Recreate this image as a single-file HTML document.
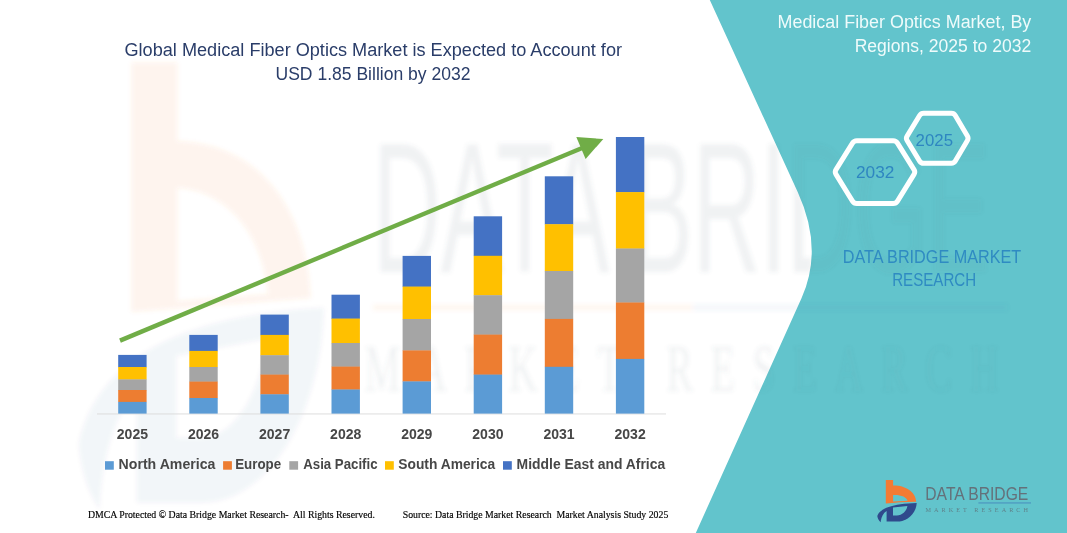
<!DOCTYPE html>
<html lang="en"><head><meta charset="utf-8"><title>Medical Fiber Optics Market</title>
<style>
html,body{margin:0;padding:0;background:#fff;}
body{width:1067px;height:533px;overflow:hidden;}
svg{display:block;}
.t{font-family:"Liberation Sans",sans-serif;}
.s{font-family:"Liberation Serif",serif;}
</style></head><body>
<svg width="1067" height="533" viewBox="0 0 1067 533">
<defs><filter id="wb" x="-5%" y="-5%" width="110%" height="110%"><feGaussianBlur stdDeviation="2"/></filter><clipPath id="ct"><path d="M709.8,0 L797.7,192 Q823.7,248.7 801.6,298 L695.8,533 L1067,533 L1067,0 Z"/></clipPath><clipPath id="cw"><path d="M0,0 L709.8,0 L797.7,192 Q823.7,248.7 801.6,298 L695.8,533 L0,533 Z"/></clipPath></defs>
<rect width="1067" height="533" fill="#ffffff"/>
<!-- teal panel -->
<path fill="#62C4CC" d="M709.8,0 L797.7,192 Q823.7,248.7 801.6,298 L695.8,533 L1067,533 L1067,0 Z"/>

<!-- watermark -->
<g filter="url(#wb)">
<path opacity="0.085" fill="#F47B34" fill-rule="evenodd" d="M131.5,62.5 L177.4,62.5 L177.4,141 C250,143 306,197 311,298 L131.5,312 Z M177.4,188 C222,190 262,228 268,294 L177.4,301 Z"/>
<g opacity="0.05" transform="matrix(6.23 0 0 10.5 -5387 -4974)">
<path fill="#2F4A8C" fill-rule="evenodd" d="M877.3,516 C880,508.5 892,503.8 916.7,503 C916.3,513 908,521.6 897,521.6 L886.6,521.6 L886.6,511 C883,513.2 881,517.5 880.7,522.3 C878.6,520.5 877.6,518.2 877.3,516 Z M893,507.6 L907.4,506 C906.6,511.4 902,515.4 897,515.4 L893,515.4 Z"/>
</g>
<g clip-path="url(#cw)">
<g opacity="0.085" fill="#5E6B73">
<text transform="translate(373,272) scale(6.0,10.6)" font-family="'Liberation Sans',sans-serif" font-size="17.6" textLength="102.8" lengthAdjust="spacingAndGlyphs">DATA BRIDGE</text>
<text transform="translate(365,391) scale(6.18,10.6)" font-family="'Liberation Serif',serif" font-size="6.4" textLength="102.5" lengthAdjust="spacing">MARKET RESEARCH</text>
</g>
<rect x="373" y="304.5" width="320" height="6" fill="#F47B34" opacity="0.06"/>
<rect x="693" y="304.5" width="120" height="6" fill="#3F78B8" opacity="0.06"/>
</g>
<g clip-path="url(#ct)">
<g opacity="0.045" fill="#6A747A">
<text transform="translate(373,272) scale(6.0,10.6)" font-family="'Liberation Sans',sans-serif" font-size="17.6" textLength="102.8" lengthAdjust="spacingAndGlyphs">DATA BRIDGE</text>
<text transform="translate(365,391) scale(6.18,10.6)" font-family="'Liberation Serif',serif" font-size="6.4" textLength="102.5" lengthAdjust="spacing">MARKET RESEARCH</text>
</g>
<rect x="693" y="304.5" width="314" height="6" fill="#3F6FA8" opacity="0.06"/>
</g>
</g>

<!-- titles -->
<g class="t" font-size="17.6" fill="#2A3D69">
<text x="124.5" y="56" textLength="497.5" lengthAdjust="spacingAndGlyphs">Global Medical Fiber Optics Market is Expected to Account for</text>
<text x="275.5" y="80" textLength="195" lengthAdjust="spacingAndGlyphs">USD 1.85 Billion by 2032</text>
</g>
<g class="t" font-size="17.6" fill="#EFFBFB">
<text x="777.5" y="27.5" textLength="253.8" lengthAdjust="spacingAndGlyphs">Medical Fiber Optics Market, By</text>
<text x="854.7" y="52.3" textLength="176.5" lengthAdjust="spacingAndGlyphs">Regions, 2025 to 2032</text>
</g>

<!-- hexagons -->
<g fill="none" stroke="#ffffff" stroke-width="5" stroke-linejoin="round">
<path d="M836.0,174.4 Q834.5,172.0 836.0,169.6 L852.5,143.1 Q854.0,140.7 856.8,140.7 L893.2,140.7 Q896.0,140.7 897.5,143.1 L914.0,169.6 Q915.5,172.0 914.0,174.4 L897.5,201.1 Q896.0,203.5 893.2,203.5 L856.8,203.5 Q854.0,203.5 852.5,201.1 Z"/>
<path d="M907.1,140.5 Q905.7,138.3 907.1,136.1 L919.6,115.5 Q921.0,113.3 923.6,113.3 L951.4,113.3 Q954.0,113.3 955.3,115.5 L967.4,136.1 Q968.7,138.3 967.4,140.5 L955.3,161.1 Q954.0,163.3 951.4,163.3 L923.6,163.3 Q921.0,163.3 919.6,161.1 Z"/>
</g>
<g class="t" font-size="17.2" fill="#2E86C1">
<text x="856" y="177.8" textLength="38.4" lengthAdjust="spacingAndGlyphs">2032</text>
<text x="915.6" y="145.8" textLength="37.4" lengthAdjust="spacingAndGlyphs">2025</text>
</g>
<g class="t" font-size="17.6" fill="#2F8BC2">
<text x="842.7" y="262.7" textLength="178.5" lengthAdjust="spacingAndGlyphs">DATA BRIDGE MARKET</text>
<text x="892.2" y="286.4" textLength="84" lengthAdjust="spacingAndGlyphs">RESEARCH</text>
</g>

<!-- chart -->
<rect x="97" y="413.5" width="569" height="0.9" fill="#D9D9D9"/>
<rect x="118.2" y="354.9" width="28.4" height="12.4" fill="#4472C4"/>
<rect x="118.2" y="367.0" width="28.4" height="12.7" fill="#FFC000"/>
<rect x="118.2" y="379.4" width="28.4" height="10.9" fill="#A5A5A5"/>
<rect x="118.2" y="390.0" width="28.4" height="12.2" fill="#ED7D31"/>
<rect x="118.2" y="401.9" width="28.4" height="11.7" fill="#5B9BD5"/>
<rect x="189.3" y="334.9" width="28.4" height="16.3" fill="#4472C4"/>
<rect x="189.3" y="350.9" width="28.4" height="16.4" fill="#FFC000"/>
<rect x="189.3" y="367.0" width="28.4" height="14.9" fill="#A5A5A5"/>
<rect x="189.3" y="381.6" width="28.4" height="16.7" fill="#ED7D31"/>
<rect x="189.3" y="398.0" width="28.4" height="15.6" fill="#5B9BD5"/>
<rect x="260.4" y="314.6" width="28.4" height="20.6" fill="#4472C4"/>
<rect x="260.4" y="334.9" width="28.4" height="20.6" fill="#FFC000"/>
<rect x="260.4" y="355.2" width="28.4" height="19.7" fill="#A5A5A5"/>
<rect x="260.4" y="374.6" width="28.4" height="20.0" fill="#ED7D31"/>
<rect x="260.4" y="394.3" width="28.4" height="19.3" fill="#5B9BD5"/>
<rect x="331.5" y="294.7" width="28.4" height="24.2" fill="#4472C4"/>
<rect x="331.5" y="318.6" width="28.4" height="24.7" fill="#FFC000"/>
<rect x="331.5" y="343.0" width="28.4" height="23.9" fill="#A5A5A5"/>
<rect x="331.5" y="366.6" width="28.4" height="23.2" fill="#ED7D31"/>
<rect x="331.5" y="389.5" width="28.4" height="24.1" fill="#5B9BD5"/>
<rect x="402.6" y="255.9" width="28.4" height="31.0" fill="#4472C4"/>
<rect x="402.6" y="286.6" width="28.4" height="32.7" fill="#FFC000"/>
<rect x="402.6" y="319.0" width="28.4" height="31.7" fill="#A5A5A5"/>
<rect x="402.6" y="350.4" width="28.4" height="31.3" fill="#ED7D31"/>
<rect x="402.6" y="381.4" width="28.4" height="32.2" fill="#5B9BD5"/>
<rect x="473.7" y="216.3" width="28.4" height="39.8" fill="#4472C4"/>
<rect x="473.7" y="255.8" width="28.4" height="39.7" fill="#FFC000"/>
<rect x="473.7" y="295.2" width="28.4" height="39.7" fill="#A5A5A5"/>
<rect x="473.7" y="334.6" width="28.4" height="40.3" fill="#ED7D31"/>
<rect x="473.7" y="374.6" width="28.4" height="39.0" fill="#5B9BD5"/>
<rect x="544.8" y="176.3" width="28.4" height="48.2" fill="#4472C4"/>
<rect x="544.8" y="224.2" width="28.4" height="47.1" fill="#FFC000"/>
<rect x="544.8" y="271.0" width="28.4" height="48.2" fill="#A5A5A5"/>
<rect x="544.8" y="318.9" width="28.4" height="48.2" fill="#ED7D31"/>
<rect x="544.8" y="366.8" width="28.4" height="46.8" fill="#5B9BD5"/>
<rect x="615.9" y="137.0" width="28.4" height="55.4" fill="#4472C4"/>
<rect x="615.9" y="192.1" width="28.4" height="56.7" fill="#FFC000"/>
<rect x="615.9" y="248.5" width="28.4" height="54.3" fill="#A5A5A5"/>
<rect x="615.9" y="302.5" width="28.4" height="56.7" fill="#ED7D31"/>
<rect x="615.9" y="358.9" width="28.4" height="54.7" fill="#5B9BD5"/>
<g class="t" font-size="13.8" font-weight="bold" fill="#474747">
<text x="132.4" y="438.7" text-anchor="middle" textLength="31.2" lengthAdjust="spacingAndGlyphs">2025</text>
<text x="203.5" y="438.7" text-anchor="middle" textLength="31.2" lengthAdjust="spacingAndGlyphs">2026</text>
<text x="274.6" y="438.7" text-anchor="middle" textLength="31.2" lengthAdjust="spacingAndGlyphs">2027</text>
<text x="345.7" y="438.7" text-anchor="middle" textLength="31.2" lengthAdjust="spacingAndGlyphs">2028</text>
<text x="416.8" y="438.7" text-anchor="middle" textLength="31.2" lengthAdjust="spacingAndGlyphs">2029</text>
<text x="487.9" y="438.7" text-anchor="middle" textLength="31.2" lengthAdjust="spacingAndGlyphs">2030</text>
<text x="559.0" y="438.7" text-anchor="middle" textLength="31.2" lengthAdjust="spacingAndGlyphs">2031</text>
<text x="630.1" y="438.7" text-anchor="middle" textLength="31.2" lengthAdjust="spacingAndGlyphs">2032</text>
</g>
<!-- arrow -->
<line x1="120" y1="340.6" x2="584" y2="147.2" stroke="#70AD47" stroke-width="4.4"/>
<polygon points="603.3,139 576.3,137 585.6,159" fill="#70AD47"/>

<!-- legend -->
<g class="t" font-size="13.8" font-weight="bold" fill="#474747">
<rect x="105" y="461.2" width="8.8" height="8.5" fill="#5B9BD5"/>
<text x="118.6" y="468.8" textLength="96.8" lengthAdjust="spacingAndGlyphs">North America</text>
<rect x="223.1" y="461.2" width="8.8" height="8.5" fill="#ED7D31"/>
<text x="235.2" y="468.8" textLength="46" lengthAdjust="spacingAndGlyphs">Europe</text>
<rect x="289.3" y="461.2" width="8.8" height="8.5" fill="#A5A5A5"/>
<text x="303.2" y="468.8" textLength="74.4" lengthAdjust="spacingAndGlyphs">Asia Pacific</text>
<rect x="385" y="461.2" width="8.8" height="8.5" fill="#FFC000"/>
<text x="398.3" y="468.8" textLength="96.8" lengthAdjust="spacingAndGlyphs">South America</text>
<rect x="503" y="461.2" width="8.8" height="8.5" fill="#4472C4"/>
<text x="516.6" y="468.8" textLength="148.6" lengthAdjust="spacingAndGlyphs">Middle East and Africa</text>
</g>

<!-- footer -->
<g class="s" font-size="9.3" fill="#000000" stroke="#000" stroke-width="0.15">
<text x="87.9" y="517.6" textLength="287" lengthAdjust="spacingAndGlyphs" xml:space="preserve" style="white-space:pre">DMCA Protected © Data Bridge Market Research-  All Rights Reserved.</text>
<text x="402.7" y="517.6" textLength="265.6" lengthAdjust="spacingAndGlyphs" xml:space="preserve" style="white-space:pre">Source: Data Bridge Market Research  Market Analysis Study 2025</text>
</g>

<!-- logo -->

<g>
<path fill="#F47B34" d="M885.8,480.1 L893.1,480.1 L893.1,485.6 C904,485.2 915.5,491 916.2,501.8 C905,502 894,502.6 885.8,503.6 Z M893.1,495 L893.1,501.6 L907.6,500.8 C906.5,497 901,494.6 893.1,495 Z"/>
<path fill="#2F4A8C" fill-rule="evenodd" d="M877.3,516 C880,508.5 892,503.8 916.7,503 C916.3,513 908,521.6 897,521.6 L886.6,521.6 L886.6,511 C883,513.2 881,517.5 880.7,522.3 C878.6,520.5 877.6,518.2 877.3,516 Z M893,507.6 L907.4,506 C906.6,511.4 902,515.4 897,515.4 L893,515.4 Z"/>
<text x="925.3" y="499.8" font-family="'Liberation Sans',sans-serif" font-size="17.6" fill="#64717A" textLength="103" lengthAdjust="spacingAndGlyphs">DATA BRIDGE</text>
<rect x="978.4" y="502.5" width="52.6" height="0.9" fill="#3F78B8" opacity="0.8"/>
<text x="925.5" y="511.6" font-family="'Liberation Serif',serif" font-size="6.2" fill="#5E6B73" opacity="0.75" textLength="102.5" lengthAdjust="spacing">MARKET RESEARCH</text>
</g>

</svg>
</body></html>
